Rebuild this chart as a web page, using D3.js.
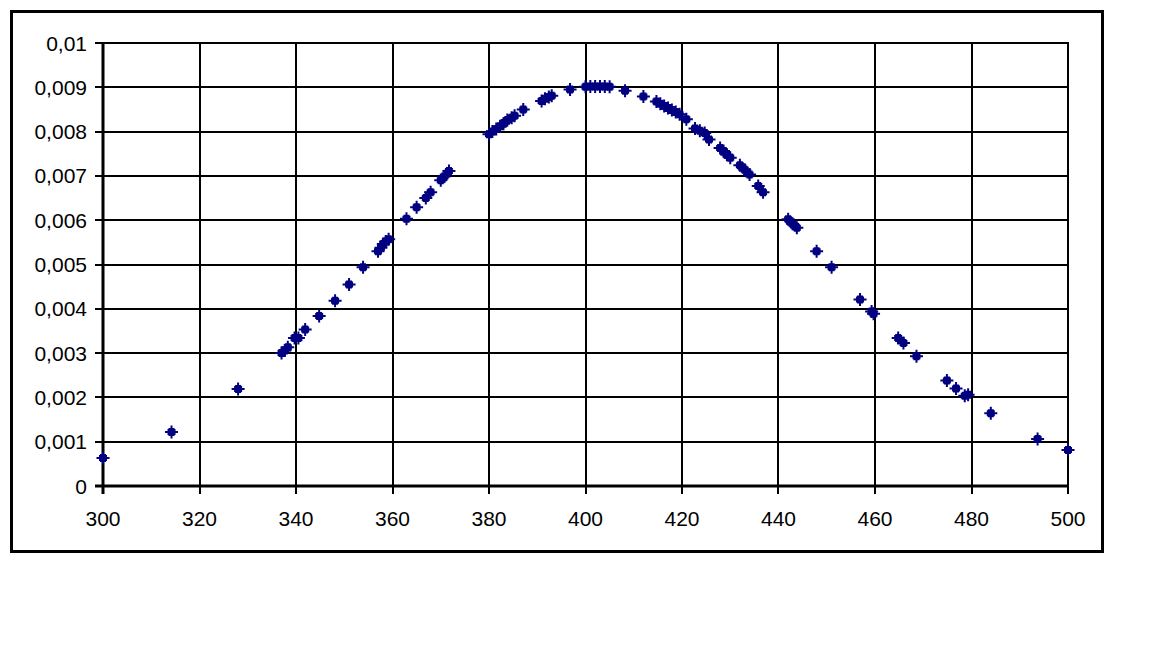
<!DOCTYPE html>
<html>
<head>
<meta charset="utf-8">
<script src="https://cdn.jsdelivr.net/npm/d3@7"></script>
<style>
  body { margin: 0; background: #fff; }
  svg { display: block; }
  .tick-label { font-family: "Liberation Sans", Arial, sans-serif; font-size: 21px; fill: #000; }
</style>
</head>
<body>
<div class="chart"></div>
<script>
// data
var xValues = [300, 314.2, 328.0, 337.0, 337.7, 338.3, 339.7, 340.5, 341.9, 344.8, 348.1, 351.0, 353.9,
  357.0, 357.6, 358.1, 358.6, 359.2, 362.9, 365.0, 366.9, 367.9, 370.0, 370.8, 371.7,
  380.0, 380.7, 381.5, 382.3, 383.0, 383.8, 384.7, 385.3, 387.1, 390.9, 391.6, 392.4, 393.0, 396.8,
  400.0, 401.0, 402.0, 403.0, 404.0, 405.0, 408.2, 412.0,
  414.7, 415.5, 416.3, 417.1, 417.9, 418.7, 419.5, 420.9, 422.7, 423.7, 424.7, 425.6,
  427.9, 428.6, 429.3, 430.0, 432.0, 433.0, 434.0, 435.8, 436.8, 442.0, 442.9, 443.8,
  447.9, 451.0, 456.9, 459.3, 459.7, 464.8, 465.9, 468.6, 474.9, 476.8, 478.6, 479.3,
  484.0, 493.7, 500];
var yValues = [0.00063, 0.00122, 0.00219, 0.00300, 0.00306, 0.00313, 0.00334, 0.00334, 0.00353, 0.00384, 0.00418, 0.00455, 0.00494,
  0.00530, 0.00538, 0.00546, 0.00552, 0.00557, 0.00603, 0.00629, 0.00650, 0.00663, 0.00690, 0.00699, 0.00711,
  0.00794, 0.00800, 0.00806, 0.00812, 0.00818, 0.00826, 0.00831, 0.00836, 0.00850, 0.00869, 0.00874, 0.00878, 0.00881, 0.00895,
  0.00901, 0.00902, 0.00902, 0.00902, 0.00902, 0.00901, 0.00892, 0.00879,
  0.00868, 0.00863, 0.00858, 0.00853, 0.00849, 0.00844, 0.00839, 0.00828, 0.00807, 0.00802, 0.00797, 0.00782,
  0.00763, 0.00756, 0.00748, 0.00741, 0.00724, 0.00714, 0.00703, 0.00677, 0.00663, 0.00602, 0.00592, 0.00583,
  0.00530, 0.00494, 0.00421, 0.00394, 0.00389, 0.00334, 0.00323, 0.00293, 0.00238, 0.00220, 0.00204, 0.00206,
  0.00164, 0.00106, 0.00081];
var xTicks = [300, 320, 340, 360, 380, 400, 420, 440, 460, 480, 500];
var yTicks = [0, 0.001, 0.002, 0.003, 0.004, 0.005, 0.006, 0.007, 0.008, 0.009, 0.01];
var yTickLabels = ['0', '0,001', '0,002', '0,003', '0,004', '0,005', '0,006', '0,007', '0,008', '0,009', '0,01'];

var points = xValues.map((v, i) => ({ x: v, y: yValues[i] }));

var fullWidth = 1152;
var fullHeight = 648;

var svg = d3.select('.chart')
  .append('svg')
  .attr('width', fullWidth)
  .attr('height', fullHeight);

// outer frame
svg.append('rect')
  .attr('x', 11.5)
  .attr('y', 11.5)
  .attr('width', 1091)
  .attr('height', 540)
  .style('fill', '#fff')
  .style('stroke', '#000')
  .style('stroke-width', 3);

var xScale = d3.scaleLinear().domain([300, 500]).range([103, 1068]);
var yScale = d3.scaleLinear().domain([0, 0.01]).range([486, 43]);

var grid = svg.append('g');

// horizontal grid lines + left ticks
grid.selectAll('.hline')
  .data(yTicks)
  .enter()
  .append('line')
  .attr('class', 'hline')
  .attr('x1', 95)
  .attr('x2', xScale(500) + 1)
  .attr('y1', d => Math.round(yScale(d)))
  .attr('y2', d => Math.round(yScale(d)))
  .style('stroke', '#000')
  .style('stroke-width', d => d === 0 ? 3 : 2);

// vertical grid lines + bottom ticks
grid.selectAll('.vline')
  .data(xTicks)
  .enter()
  .append('line')
  .attr('class', 'vline')
  .attr('x1', d => Math.round(xScale(d)))
  .attr('x2', d => Math.round(xScale(d)))
  .attr('y1', yScale(0.01) - 1)
  .attr('y2', 494)
  .style('stroke', '#000')
  .style('stroke-width', d => d === 300 ? 3 : 2);

// tick labels
svg.selectAll('.ylab')
  .data(yTicks)
  .enter()
  .append('text')
  .attr('class', 'tick-label ylab')
  .attr('x', 87)
  .attr('y', d => yScale(d))
  .attr('dy', '0.36em')
  .style('text-anchor', 'end')
  .text((d, i) => yTickLabels[i]);

svg.selectAll('.xlab')
  .data(xTicks)
  .enter()
  .append('text')
  .attr('class', 'tick-label xlab')
  .attr('x', d => xScale(d))
  .attr('y', 526)
  .style('text-anchor', 'middle')
  .text(d => d);

// marker: small star-like cross with a chunky centre
var marker = 'M-6.5,-1H-4V-3H-3V-4H-1V-6.5H1V-4H3V-3H4V-1H6.5V1H4V3H3V4H1V6.5H-1V4H-3V3H-4V1H-6.5Z';

svg.selectAll('.dot')
  .data(points)
  .enter()
  .append('path')
  .attr('class', 'dot')
  .attr('transform', d => `translate(${xScale(d.x)}, ${yScale(d.y)})`)
  .attr('d', marker)
  .style('fill', '#000080');
</script>
</body>
</html>
